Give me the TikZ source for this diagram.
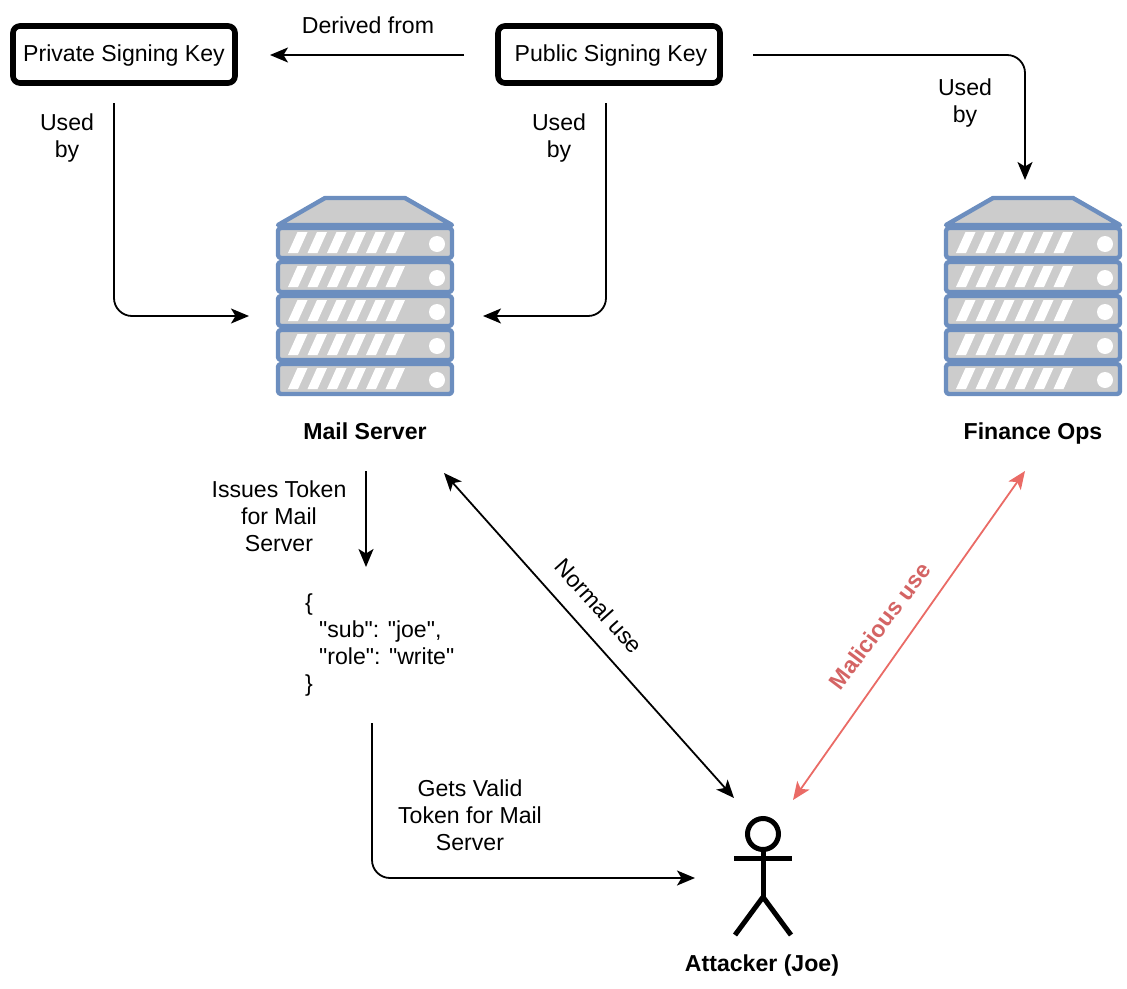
\documentclass[tikz,border=0pt]{standalone}
\usepackage{fontspec}
\setmainfont{Liberation Sans}
\newfontfamily\tokfont{Liberation Sans}
\usetikzlibrary{arrows.meta}
\definecolor{srvblue}{HTML}{6C8EBF}
\definecolor{srvgray}{HTML}{CCCCCC}
\definecolor{malred}{HTML}{EA6B66}
\definecolor{maltext}{HTML}{D46464}
\tikzset{
  x=1pt,y=-1pt,
  lbl/.style={font=\fontsize{23.1}{27}\selectfont,align=center,inner sep=0pt,text=black},
  boldlbl/.style={lbl,font=\fontsize{23.1}{27}\selectfont\bfseries,text height=19pt,text depth=3pt},
  keybox/.style={draw=black,line width=5.6pt,rounded corners=7pt,fill=white,minimum width=222pt,minimum height=57pt,inner sep=0pt,text height=19pt,text depth=5pt,font=\fontsize{23.1}{27}\selectfont},
  conn/.style={draw=black,line width=1.8pt,rounded corners=18pt,-{Stealth[length=18pt,width=15pt,inset=4.5pt]}},
  conn2/.style={conn,{Stealth[length=18pt,width=15pt,inset=4.5pt]}-{Stealth[length=18pt,width=15pt,inset=4.5pt]}},
  malconn/.style={conn2,draw=malred},
  actor/.style={draw=black,line width=5pt},
  srvline/.style={draw=srvblue,line width=4.4pt,line join=round},
  server/.pic={
    \path[srvline,fill=srvgray] (48,0) -- (128,0) -- (175,27) -- (1,27) -- cycle;
    \foreach \yy in {30,64,98,132,166}{
      \path[srvline,fill=srvgray,rounded corners=3pt] (1,\yy) rectangle (175,\yy+30);
      \foreach \k in {0,...,5}{
        \fill[white] (11+\k*19.5,\yy+25) -- (21+\k*19.5,\yy+25) -- (30.5+\k*19.5,\yy+4) -- (20.5+\k*19.5,\yy+4) -- cycle;
      }
      \fill[white] (160,\yy+16) circle (8);
    }
  }
}
\begin{document}
\begin{tikzpicture}
\useasboundingbox (0,0) rectangle (1127,988);
% key boxes
\node[keybox] (priv) at (124,54.5) {Private Signing Key};
\node[keybox] (pub) at (609,54.5) {\hspace*{4pt}Public Signing Key};
% servers
\pic at (277,198) {server};
\pic at (945,198) {server};
% labels
\node[boldlbl] (mail) at (365,431) {Mail Server};
\node[boldlbl] (fin) at (1033,431) {Finance Ops};
\node[boldlbl] (att) at (762,963) {Attacker (Joe)};
\node[lbl] (l1) at (368,25) {Derived from};
\node[lbl] (l2) at (67,138.5) {Used\\by};
\node[lbl] (l3) at (559,138.5) {Used\\by};
\node[lbl] (l4) at (965,103) {Used\\by};
\node[lbl] (l5) at (279,516) {Issues Token\\for Mail\\Server};
\node[lbl] (l6) at (470,815) {Gets Valid\\Token for Mail\\Server};
\node[lbl,align=left,anchor=west] (tok) at (305,645) {\tokfont\{\\\tokfont\hspace*{14pt}"sub": "joe",\\\tokfont\hspace*{14pt}"role": "write"\\\tokfont\}};
\node[lbl,rotate=-48] (l7) at (599,606) {Normal use};
\node[boldlbl,text=maltext,rotate=53] (l8) at (880,626) {Malicious use};
% connector end points
\coordinate (a1) at (464,55);   \coordinate (a2) at (270,55);
\coordinate (b1) at (114,103);  \coordinate (b2) at (114,316); \coordinate (b3) at (249,316);
\coordinate (c1) at (606,103);  \coordinate (c2) at (606,316); \coordinate (c3) at (483,316);
\coordinate (d1) at (753,55);   \coordinate (d2) at (1025,55); \coordinate (d3) at (1025,180);
\coordinate (e1) at (366,471);  \coordinate (e2) at (366,567);
\coordinate (f1) at (444,473);  \coordinate (f2) at (734,798);
\coordinate (g1) at (1025,471); \coordinate (g2) at (793,800);
\coordinate (h1) at (372,723);  \coordinate (h2) at (372,878); \coordinate (h3) at (695,878);
\draw[conn] (a1) -- (a2);
\draw[conn] (b1) -- (b2) -- (b3);
\draw[conn] (c1) -- (c2) -- (c3);
\draw[conn] (d1) -- (d2) -- (d3);
\draw[conn] (e1) -- (e2);
\draw[conn2] (f1) -- (f2);
\draw[malconn] (g1) -- (g2);
\draw[conn] (h1) -- (h2) -- (h3);
% actor
\draw[actor] (763,834) circle (15.5);
\draw[actor] (763,850) -- (763,897);
\draw[actor] (734,858) -- (792,858);
\draw[actor] (735,935) -- (763,897) -- (791,935);
\end{tikzpicture}
\end{document}
